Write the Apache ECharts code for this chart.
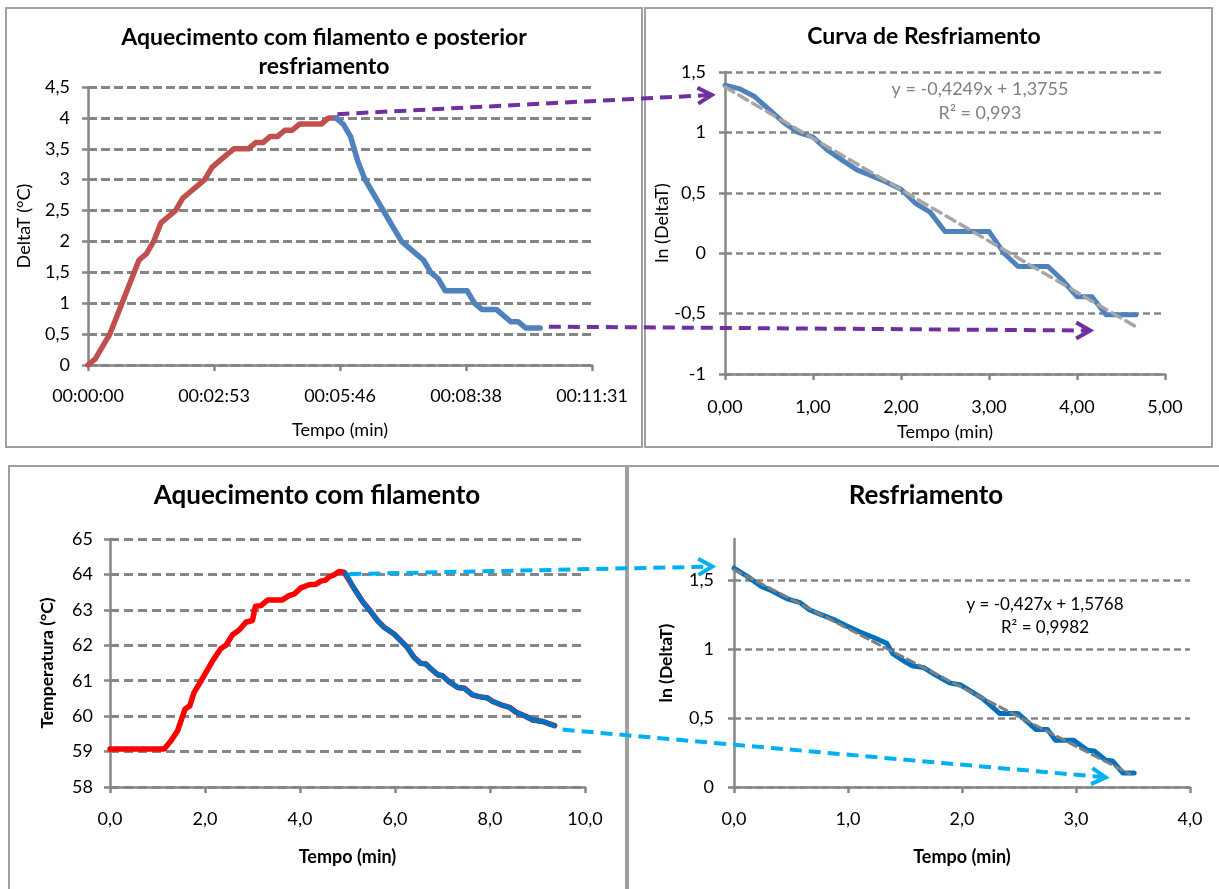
<!DOCTYPE html>
<html>
<head>
<meta charset="utf-8">
<title>Aquecimento com filamento</title>
<script src="https://cdn.jsdelivr.net/npm/echarts@6/dist/echarts.min.js"></script>
<style>
  html, body { margin: 0; padding: 0; background: #fff; }
  #chart { width: 1219px; height: 889px; }
</style>
</head>
<body>
<div id="chart"></div>
<script>
// 1) DeltaT (°C) x tempo (s) - aquecimento (vermelho) e resfriamento (azul)
const heatTime = [0, 10, 20, 30, 40, 50, 60, 70, 80, 90, 100, 110, 120, 130, 140, 150, 160, 170, 180, 190, 200, 210, 220, 230, 240, 250, 260, 270, 280, 290, 300, 310, 320, 330, 340];
const heatDelta = [0, 0.1, 0.3, 0.5, 0.8, 1.1, 1.4, 1.7, 1.8, 2.0, 2.3, 2.4, 2.5, 2.7, 2.8, 2.9, 3.0, 3.2, 3.3, 3.4, 3.5, 3.5, 3.5, 3.6, 3.6, 3.7, 3.7, 3.8, 3.8, 3.9, 3.9, 3.9, 3.9, 4.0, 4.0];
const coolTime = [340, 350, 360, 370, 380, 390, 400, 410, 420, 430, 440, 450, 460, 470, 480, 490, 500, 510, 520, 530, 540, 550, 560, 570, 580, 590, 600, 610, 620];
const coolDelta = [4.0, 3.9, 3.7, 3.3, 3.0, 2.8, 2.6, 2.4, 2.2, 2.0, 1.9, 1.8, 1.7, 1.5, 1.4, 1.2, 1.2, 1.2, 1.2, 1.0, 0.9, 0.9, 0.9, 0.8, 0.7, 0.7, 0.6, 0.6, 0.6];

// 2) Curva de Resfriamento: ln(DeltaT) x tempo (min)
const lnTime = [0, 0.17, 0.33, 0.5, 0.67, 0.83, 1.0, 1.17, 1.33, 1.5, 1.67, 1.83, 2.0, 2.17, 2.33, 2.5, 2.67, 2.83, 3.0, 3.17, 3.33, 3.5, 3.67, 3.83, 4.0, 4.17, 4.33, 4.5, 4.67];
const lnDelta = [1.39, 1.36, 1.3, 1.19, 1.08, 1.0, 0.96, 0.85, 0.77, 0.69, 0.64, 0.59, 0.53, 0.41, 0.34, 0.18, 0.18, 0.18, 0.18, 0.0, -0.11, -0.11, -0.11, -0.22, -0.36, -0.36, -0.51, -0.51, -0.51];
const trendTime1 = [0, 4.67];
const trendLn1 = [1.3755, -0.609];

// 3) Aquecimento com filamento: temperatura (°C) x tempo (min)
const tempHeatTime = [0, 1.14, 1.28, 1.42, 1.58, 1.68, 1.77, 1.92, 2.16, 2.33, 2.44, 2.58, 2.72, 2.86, 3.0, 3.06, 3.18, 3.32, 3.63, 3.77, 3.88, 4.02, 4.19, 4.33, 4.44, 4.54, 4.61, 4.72, 4.82, 4.93];
const tempHeat = [59.07, 59.07, 59.3, 59.58, 60.2, 60.29, 60.67, 61.0, 61.56, 61.9, 62.0, 62.3, 62.43, 62.65, 62.7, 63.1, 63.12, 63.28, 63.28, 63.4, 63.45, 63.62, 63.71, 63.72, 63.81, 63.84, 63.93, 63.99, 64.08, 64.06];
const tempCoolTime = [4.96, 5.14, 5.32, 5.46, 5.63, 5.77, 5.98, 6.12, 6.26, 6.4, 6.54, 6.65, 6.76, 6.9, 7.0, 7.14, 7.32, 7.46, 7.63, 7.77, 7.95, 8.05, 8.23, 8.41, 8.55, 8.76, 8.9, 9.11, 9.25, 9.36];
const tempCool = [64.03, 63.6, 63.23, 63.0, 62.7, 62.51, 62.32, 62.13, 61.94, 61.66, 61.49, 61.47, 61.33, 61.17, 61.14, 60.97, 60.81, 60.79, 60.6, 60.55, 60.51, 60.42, 60.32, 60.25, 60.11, 59.99, 59.89, 59.85, 59.78, 59.73];

// 4) Resfriamento: ln(DeltaT) x tempo (min)
const lnTime2 = [0, 0.12, 0.24, 0.33, 0.475, 0.58, 0.665, 0.77, 0.87, 0.99, 1.1, 1.22, 1.34, 1.39, 1.5, 1.57, 1.66, 1.77, 1.89, 1.99, 2.18, 2.33, 2.49, 2.65, 2.75, 2.82, 2.98, 3.1, 3.16, 3.26, 3.32, 3.41, 3.51];
const lnDelta2 = [1.588, 1.527, 1.455, 1.425, 1.363, 1.338, 1.285, 1.249, 1.217, 1.169, 1.127, 1.087, 1.043, 0.97, 0.909, 0.878, 0.868, 0.812, 0.756, 0.74, 0.643, 0.534, 0.534, 0.417, 0.417, 0.34, 0.34, 0.267, 0.262, 0.194, 0.189, 0.102, 0.102];
const trendTime2 = [0, 3.47];
const trendLn2 = [1.5768, 0.095];
const lnTicks2 = [0, 0.5, 1, 1.5];

// setas tracejadas entre os gráficos: [grid, x, y]
const arrowLinks = [
  { color: "#7030A0", from: [0, 342, 4.06], to: [1, -0.15, 1.31] },
  { color: "#7030A0", from: [0, 632, 0.62], to: [1, 4.15, -0.64] },
  { color: "#00B0F0", from: [2, 5.04, 64.01], to: [3, -0.19, 1.6] },
  { color: "#00B0F0", from: [2, 9.53, 59.62], to: [3, 3.26, 0.07] },
];

const FONT = "Lato";
const AXIS_GRAY = "#868686";

function pairs(xs, ys) {
  return xs.map((x, i) => [x, ys[i]]);
}
function comma(v, digits) {
  let s = digits == null ? String(Math.round(v * 100) / 100) : v.toFixed(digits);
  return s.replace(".", ",");
}
function hms(sec) {
  let s = Math.round(sec);
  let pad = (n) => String(n).padStart(2, "0");
  return pad(Math.floor(s / 3600)) + ":" + pad(Math.floor((s % 3600) / 60)) + ":" + pad(s % 60);
}

// eixo de valores no estilo do Excel
function axis(gridIndex, o) {
  return {
    type: "value",
    gridIndex: gridIndex,
    min: o.min,
    max: o.max,
    interval: o.interval,
    name: o.name,
    nameLocation: "middle",
    nameGap: o.nameGap,
    nameMoveOverlap: false,
    nameTextStyle: {
      fontFamily: FONT,
      fontSize: o.nameSize || 18,
      fontWeight: o.bold ? "bold" : "normal",
      color: "#000",
    },
    axisLine: {
      show: true,
      onZero: false,
      lineStyle: { color: AXIS_GRAY, width: 2.5 },
    },
    axisTick: {
      show: true,
      length: 6,
      customValues: o.tickValues,
      lineStyle: { color: AXIS_GRAY, width: 2.5 },
    },
    axisLabel: {
      fontFamily: FONT,
      fontSize: 18,
      color: "#000",
      margin: o.margin,
      customValues: o.tickValues,
      formatter: o.fmt,
    },
    splitLine: {
      show: !!o.grid,
      lineStyle: {
        color: AXIS_GRAY,
        width: o.grid ? o.grid.width : 0,
        type: o.grid ? o.grid.dash : "solid",
      },
    },
  };
}

function line(xIdx, data, color, width, dash, z) {
  return {
    type: "line",
    xAxisIndex: xIdx,
    yAxisIndex: xIdx,
    data: data,
    symbol: "none",
    z: z || 2,
    lineStyle: { color: color, width: width, type: dash || "solid", cap: "round", join: "round" },
    emphasis: { disabled: true },
    silent: true,
  };
}

let myChart = echarts.init(document.getElementById("chart"));

let option = {
  animation: false,
  backgroundColor: "#fff",
  textStyle: { fontFamily: FONT },
  title: [
    {
      text: "Aquecimento com filamento e posterior\nresfriamento",
      left: 324, top: 23, textAlign: "center", padding: 0,
      textStyle: { fontFamily: FONT, fontSize: 23, fontWeight: "bold", lineHeight: 29, color: "#000" },
    },
    {
      text: "Curva de Resfriamento",
      left: 924, top: 25, textAlign: "center", padding: 0,
      textStyle: { fontFamily: FONT, fontSize: 23, fontWeight: "bold", color: "#000" },
    },
    {
      text: "Aquecimento com filamento",
      left: 317, top: 483, textAlign: "center", padding: 0,
      textStyle: { fontFamily: FONT, fontSize: 26, fontWeight: "bold", color: "#000" },
    },
    {
      text: "Resfriamento",
      left: 926, top: 483, textAlign: "center", padding: 0,
      textStyle: { fontFamily: FONT, fontSize: 26, fontWeight: "bold", color: "#000" },
    },
    {
      // equação da linha de tendência
      text: "y = -0,4249x + 1,3755\nR² = 0,993",
      left: 980, top: 77, textAlign: "center", padding: 0,
      textStyle: { fontFamily: FONT, fontSize: 18, fontWeight: "normal", lineHeight: 24, color: "#808080", align: "center" },
    },
    {
      text: "y = -0,427x + 1,5768\nR² = 0,9982",
      left: 1045, top: 593, textAlign: "center", padding: 0,
      textStyle: { fontFamily: FONT, fontSize: 17, fontWeight: "normal", lineHeight: 23, color: "#000", align: "center" },
    },
  ],
  grid: [
    { left: 88, top: 87, width: 504, height: 278, outerBoundsMode: "none" },
    { left: 725, top: 72, width: 440, height: 302, outerBoundsMode: "none" },
    { left: 110, top: 539, width: 475, height: 248, outerBoundsMode: "none" },
    { left: 734, top: 539, width: 456, height: 248, outerBoundsMode: "none" },
  ],
  xAxis: [
    axis(0, { min: 0, max: 691.2, interval: 172.8, name: "Tempo (min)", nameGap: 56, margin: 22, fmt: hms }),
    axis(1, { min: 0, max: 5, interval: 1, name: "Tempo (min)", nameGap: 49, margin: 24, fmt: (v) => comma(v, 2) }),
    axis(2, { min: 0, max: 10, interval: 2, name: "Tempo (min)", nameGap: 61, margin: 23, bold: true, fmt: (v) => comma(v, 1) }),
    axis(3, { min: 0, max: 4, interval: 1, name: "Tempo (min)", nameGap: 61, margin: 23, bold: true, fmt: (v) => comma(v, 1) }),
  ],
  yAxis: [
    axis(0, { min: 0, max: 4.5, interval: 0.5, name: "DeltaT (°C)", nameGap: 55, margin: 18, grid: { width: 3, dash: [9, 4] }, fmt: (v) => comma(v) }),
    axis(1, { min: -1, max: 1.5, interval: 0.5, name: "ln (DeltaT)", nameGap: 54, margin: 19, grid: { width: 2.5, dash: [7, 4] }, fmt: (v) => comma(v) }),
    axis(2, { min: 58, max: 65, interval: 1, name: "Temperatura (°C)", nameGap: 54, margin: 17, bold: true, nameSize: 17.5, grid: { width: 3, dash: [9, 5] }, fmt: (v) => String(v) }),
    axis(3, { min: 0, max: 1.8, interval: 0.5, name: "ln (DeltaT)", nameGap: 59, margin: 20, bold: true, nameSize: 17.5, tickValues: lnTicks2, grid: { width: 2.5, dash: [7, 4] }, fmt: (v) => comma(v) }),
  ],
  series: [
    line(0, pairs(heatTime, heatDelta), "#C0504D", 5.5),
    line(0, pairs(coolTime, coolDelta), "#4F81BD", 5.5, null, 3),
    line(1, pairs(lnTime, lnDelta), "#4F81BD", 5),
    line(1, pairs(trendTime1, trendLn1), "#A6A6A6", 3.5, [10, 6], 3),
    line(2, pairs(tempHeatTime.concat(tempCoolTime), tempHeat.concat(tempCool)), "#FF0000", 5.5),
    line(2, pairs(tempCoolTime, tempCool), "#0070C0", 5, null, 3),
    line(3, pairs(lnTime2, lnDelta2), "#0070C0", 5),
    line(3, pairs(trendTime2, trendLn2), "#7F7F7F", 3, [8, 5], 3),
  ],
};
myChart.setOption(option);

// molduras dos quatro gráficos e setas
let graphics = [
  { type: "rect", shape: { x: 6, y: 8, width: 636, height: 439 } },
  { type: "rect", shape: { x: 645, y: 8, width: 567, height: 439 } },
  { type: "rect", shape: { x: 9, y: 466, width: 617, height: 440 } },
  { type: "rect", shape: { x: 628, y: 466, width: 600, height: 440 } },
].map((r) => Object.assign(r, { silent: true, z: 0, style: { fill: "none", stroke: "#A0A0A0", lineWidth: 2 } }));

arrowLinks.forEach((a) => {
  let p1 = myChart.convertToPixel({ gridIndex: a.from[0] }, [a.from[1], a.from[2]]);
  let p2 = myChart.convertToPixel({ gridIndex: a.to[0] }, [a.to[1], a.to[2]]);
  let dx = p2[0] - p1[0], dy = p2[1] - p1[1];
  let len = Math.sqrt(dx * dx + dy * dy);
  let ux = dx / len, uy = dy / len;
  let head = 14, half = 8;
  graphics.push({
    type: "line", silent: true, z: 100,
    shape: { x1: p1[0], y1: p1[1], x2: p2[0] - ux * 3, y2: p2[1] - uy * 3 },
    style: { stroke: a.color, lineWidth: 4, lineDash: [12, 7] },
  });
  graphics.push({
    type: "polyline", silent: true, z: 100,
    shape: {
      points: [
        [p2[0] - ux * head - uy * half, p2[1] - uy * head + ux * half],
        [p2[0], p2[1]],
        [p2[0] - ux * head + uy * half, p2[1] - uy * head - ux * half],
      ],
    },
    style: { stroke: a.color, fill: "none", lineWidth: 4, lineJoin: "miter" },
  });
});

myChart.setOption({ graphic: graphics });
window.onresize = myChart.resize;
</script>
</body>
</html>
